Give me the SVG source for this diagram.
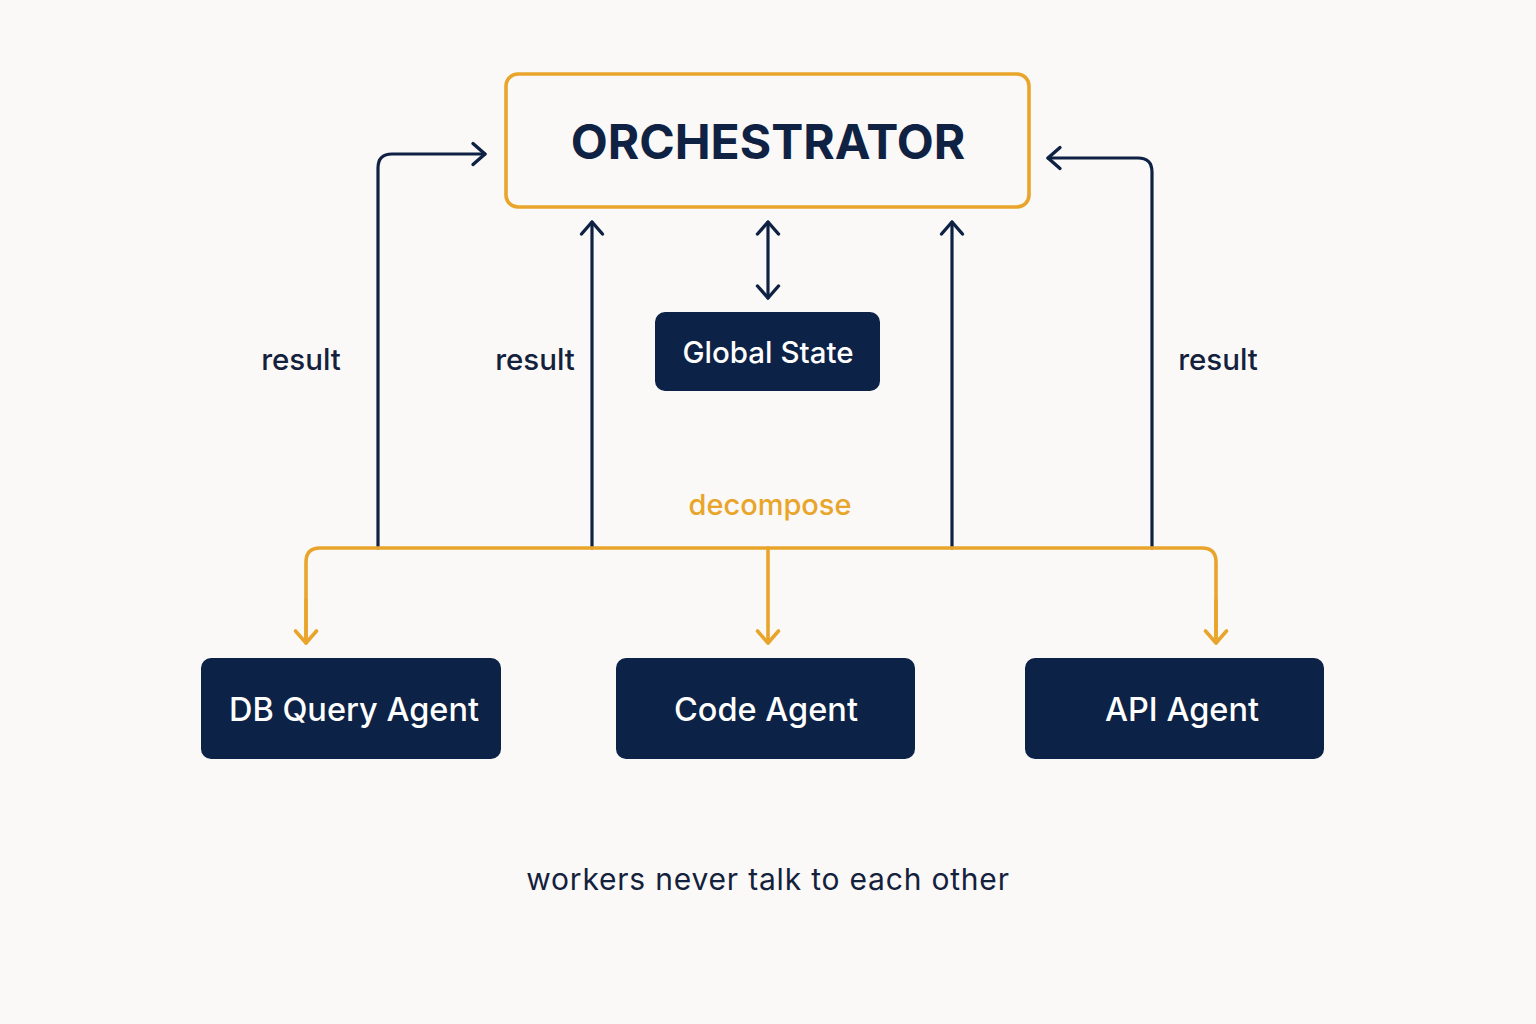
<svg xmlns="http://www.w3.org/2000/svg" width="1536" height="1024" viewBox="0 0 1536 1024">
<defs>
<style>
.bg{fill:#faf9f7}
.navy{stroke:#0f2244;stroke-width:3.2;fill:none;stroke-linecap:round;stroke-linejoin:round}
.orange{stroke:#e9a52b;stroke-width:3.6;fill:none;stroke-linecap:round;stroke-linejoin:round}
.box{fill:#0c2246}
.btxt{fill:#ffffff;font-family:Inter,"Open Sans","Liberation Sans",sans-serif;font-weight:500;text-anchor:middle}
.lbl{fill:#14213d;font-family:Inter,"Open Sans","Liberation Sans",sans-serif;font-size:29.5px;font-weight:500;text-anchor:middle}
</style>
<marker id="an" viewBox="0 0 26 26" refX="23" refY="13" markerWidth="26" markerHeight="26" markerUnits="userSpaceOnUse" orient="auto-start-reverse">
<path d="M11,2.5 L23,13 L11,23.5" fill="none" stroke="#0f2244" stroke-width="3.4" stroke-linecap="round" stroke-linejoin="round"/>
</marker>
<marker id="ao" viewBox="0 0 26 26" refX="23" refY="13" markerWidth="26" markerHeight="26" markerUnits="userSpaceOnUse" orient="auto">
<path d="M11,2.5 L23,13 L11,23.5" fill="none" stroke="#e9a52b" stroke-width="3.6" stroke-linecap="round" stroke-linejoin="round"/>
</marker>
</defs>
<rect class="bg" x="0" y="0" width="1536" height="1024"/>

<g id="connectors">
<path class="navy" d="M378,548 V168 Q378,154 392,154 H485" marker-end="url(#an)"/>
<path class="navy" d="M1152,548 V172 Q1152,158 1138,158 H1048" marker-end="url(#an)"/>
<path class="navy" d="M592,548 V222" marker-end="url(#an)"/>
<path class="navy" d="M952,548 V222" marker-end="url(#an)"/>
<path class="navy" d="M768,222 V298" marker-start="url(#an)" marker-end="url(#an)"/>
<path class="orange" d="M306,642 V562 Q306,548 320,548 H1202 Q1216,548 1216,562 V642" />
<path class="orange" d="M306,600 V643" marker-end="url(#ao)"/>
<path class="orange" d="M1216,600 V643" marker-end="url(#ao)"/>
<path class="orange" d="M768,548 V643" marker-end="url(#ao)"/>
</g>

<g id="orchestrator">
<rect x="506" y="74" width="523" height="133" rx="12" fill="none" stroke="#e9a52b" stroke-width="3.6"/>
<text x="768" y="159" font-family="Inter,'Open Sans','Liberation Sans',sans-serif" font-weight="700" font-size="48" fill="#0f2244" text-anchor="middle">ORCHESTRATOR</text>
</g>

<g id="global-state">
<rect class="box" x="655" y="312" width="225" height="79" rx="10"/>
<text class="btxt" x="768" y="363" font-size="29.5">Global State</text>
</g>

<g id="db-query-agent">
<rect class="box" x="201" y="658" width="300" height="101" rx="10"/>
<text class="btxt" x="354" y="721" font-size="32.5">DB Query Agent</text>
</g>

<g id="code-agent">
<rect class="box" x="616" y="658" width="299" height="101" rx="10"/>
<text class="btxt" x="766" y="721" font-size="32.5">Code Agent</text>
</g>

<g id="api-agent">
<rect class="box" x="1025" y="658" width="299" height="101" rx="10"/>
<text class="btxt" x="1182" y="721" font-size="32.5">API Agent</text>
</g>

<g id="labels">
<text class="lbl" x="301" y="370">result</text>
<text class="lbl" x="535" y="370">result</text>
<text class="lbl" x="1218" y="370">result</text>
<text class="lbl" x="770" y="515" style="fill:#e9a52b;font-size:29px">decompose</text>
<text class="lbl" x="768" y="890" style="font-size:30px;font-weight:400;letter-spacing:0.8px">workers never talk to each other</text>
</g>
</svg>
